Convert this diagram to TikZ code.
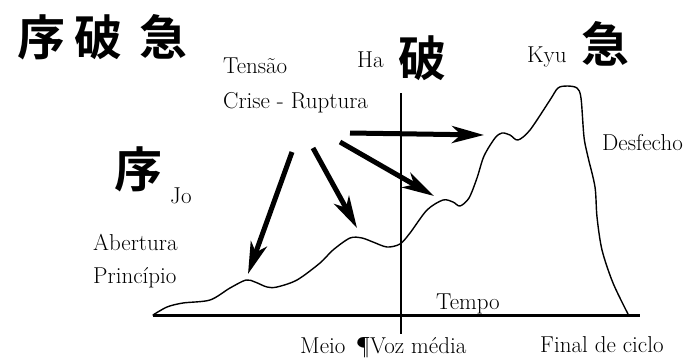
\documentclass[tikz,border=0pt]{standalone}
\usepackage{fontspec}
\newfontfamily\cjk{Noto Sans CJK JP}[BoldFont={* Bold}]
\usetikzlibrary{arrows.meta}
\tikzset{
  lbl/.style={inner sep=0pt, anchor=base west, font=\fontsize{23}{23}\selectfont},
  kanji/.style={inner sep=0pt, anchor=center, font=\cjk\bfseries\fontsize{48}{48}\selectfont},
  bigarrow/.style={line width=5pt, -{Stealth[length=32pt,width=17pt,inset=9pt]}},
  axisline/.style={line width=3pt},
  curveline/.style={line width=1.4pt, line join=round, line cap=round}
}
\begin{document}
\begin{tikzpicture}[x=1pt,y=-1pt]
\useasboundingbox (0,0) rectangle (696,360);
\fill[white] (0,0) rectangle (696,360);

% title kanji
\node[kanji] (t1) at (41,37) {序};
\node[kanji] (t2) at (98,37) {破};
\node[kanji] (t3) at (163,37) {急};

% labels
\node[lbl] (tens) at (223,73) {Tensão};
\node[lbl] (crise) at (223,108) {Crise - Ruptura};
\node[lbl] (ha) at (357,67) {Ha};
\node[kanji] (hak) at (422,58) {破};
\node[lbl] (kyu) at (527,62) {Kyu};
\node[kanji] (kyuk) at (605,44) {急};
\node[lbl] (desf) at (602,150) {Desfecho};
\node[kanji] (jok) at (138,169) {序};
\node[lbl] (jo) at (170,203) {Jo};
\node[lbl] (aber) at (93,250) {Abertura};
\node[lbl] (princ) at (93,283) {Princípio};
\node[lbl] (tempo) at (436,309) {Tempo};
\node[lbl] (meio) at (300,353) {Meio \,¶Voz média};
\node[lbl] (final) at (540,352) {Final de ciclo};

% axes
\coordinate (ax0) at (153,315);
\coordinate (ax1) at (640,315);
\coordinate (v0) at (401,93);
\coordinate (v1) at (401,334);
\draw[axisline] (ax0) -- (ax1);
\draw[axisline, line width=2.6pt] (v0) -- (v1);

% curve
\draw[curveline] plot[smooth, tension=0.5] coordinates {
(153,315) (167,307) (183,303) (210,300) (230,288) (246,280) (255,282) (267,287) (277,287) (297,280) (320,263) (333,250) (350,238) (362,238) (373,242) (387,247) (400,244) (410,233) (427,210) (443,200) (453,202) (460,206) (469,198) (477,178) (484,156) (495,138) (502,133) (510,135) (518,140) (530,130) (550,100) (558,88) (567,86) (577,88) (581,98) (584,137) (588,157) (595,187) (597,217) (602,250) (613,283) (628,314)};

% arrows
\coordinate (a1s) at (292,152); \coordinate (a1e) at (248,274);
\coordinate (a2s) at (313,148); \coordinate (a2e) at (357,228);
\coordinate (a3s) at (340,142); \coordinate (a3e) at (434,196);
\coordinate (a4s) at (350,133); \coordinate (a4e) at (484,135);
\draw[bigarrow] (a1s) -- (a1e);
\draw[bigarrow] (a2s) -- (a2e);
\draw[bigarrow] (a3s) -- (a3e);
\draw[bigarrow] (a4s) -- (a4e);
\end{tikzpicture}
\end{document}
